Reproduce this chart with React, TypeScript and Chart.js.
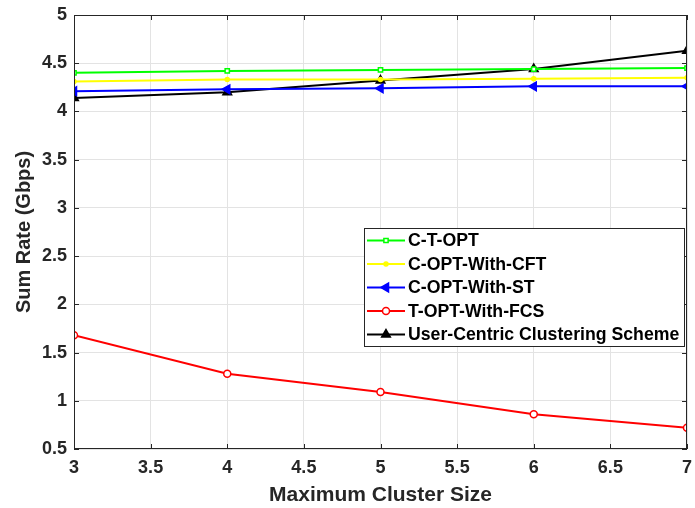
import { useEffect, useRef } from "react";
import { Chart, registerables } from "chart.js";
import { drawPoint } from "chart.js/helpers";

Chart.register(...registerables);

const clusterSizes = [3, 4, 5, 6, 7];
const ctOpt = [4.4, 4.42, 4.43, 4.44, 4.45];
const cOptCft = [4.31, 4.33, 4.33, 4.34, 4.35];
const cOptSt = [4.21, 4.23, 4.24, 4.26, 4.26];
const tOptFcs = [1.68, 1.28, 1.09, 0.86, 0.72];
const userCentric = [4.14, 4.2, 4.32, 4.44, 4.63];

const seriesLabels = [
  "C-T-OPT",
  "C-OPT-With-CFT",
  "C-OPT-With-ST",
  "T-OPT-With-FCS",
  "User-Centric Clustering Scheme",
];

const xTickValues = [3, 3.5, 4, 4.5, 5, 5.5, 6, 6.5, 7];
const yTickValues = [0.5, 1, 1.5, 2, 2.5, 3, 3.5, 4, 4.5, 5];

const FONT = "'Liberation Sans', Arial, sans-serif";
const AXIS_COLOR = "#262626";

const toPoints = (ys: number[]) => clusterSizes.map((x, i) => ({ x, y: ys[i] }));

const framePlugin = {
  id: "matlabFrame",
  afterDraw(chart: any) {
    const { ctx, chartArea, scales } = chart;
    const { left, right, top, bottom } = chartArea;
    ctx.save();
    ctx.strokeStyle = AXIS_COLOR;
    ctx.lineWidth = 1;
    ctx.strokeRect(left + 0.5, top + 0.5, right - left - 1, bottom - top - 1);
    const tl = 5;
    ctx.beginPath();
    xTickValues.forEach((v) => {
      const px = Math.round(scales.x.getPixelForValue(v)) + 0.5;
      ctx.moveTo(px, bottom);
      ctx.lineTo(px, bottom - tl);
      ctx.moveTo(px, top);
      ctx.lineTo(px, top + tl);
    });
    yTickValues.forEach((v) => {
      const py = Math.round(scales.y.getPixelForValue(v)) + 0.5;
      ctx.moveTo(left, py);
      ctx.lineTo(left + tl, py);
      ctx.moveTo(right, py);
      ctx.lineTo(right - tl, py);
    });
    ctx.stroke();

    // legend box inside plot area
    const boxRight = right - 2;
    const boxLeft = 364;
    const boxTop = 228;
    const rowH = 23.5;
    const boxBottom = 347;
    ctx.fillStyle = "#ffffff";
    ctx.fillRect(boxLeft, boxTop, boxRight - boxLeft, boxBottom - boxTop);
    ctx.strokeStyle = AXIS_COLOR;
    ctx.strokeRect(boxLeft + 0.5, boxTop + 0.5, boxRight - boxLeft - 1, boxBottom - boxTop - 1);
    ctx.font = `bold 17.7px ${FONT}`;
    ctx.textBaseline = "middle";
    ctx.textAlign = "left";
    chart.data.datasets.forEach((ds: any, i: number) => {
      const cy = boxTop + 12.5 + i * rowH;
      const x0 = boxLeft + 3;
      const x1 = boxLeft + 41;
      ctx.strokeStyle = ds.borderColor;
      ctx.lineWidth = ds.borderWidth;
      ctx.beginPath();
      ctx.moveTo(x0, cy);
      ctx.lineTo(x1, cy);
      ctx.stroke();
      ctx.fillStyle = ds.pointBackgroundColor;
      ctx.strokeStyle = ds.pointBorderColor;
      ctx.lineWidth = ds.pointBorderWidth;
      drawPoint(
        ctx,
        {
          pointStyle: ds.pointStyle,
          radius: ds.pointRadius,
          rotation: ds.pointRotation || 0,
          borderWidth: ds.pointBorderWidth,
        } as any,
        (x0 + x1) / 2,
        cy
      );
      ctx.fillStyle = "#000000";
      ctx.fillText(ds.label, x1 + 3, cy + 1);
    });
    ctx.restore();
  },
};

export default function App() {
  const canvasRef = useRef<HTMLCanvasElement | null>(null);

  useEffect(() => {
    document.body.style.margin = "0";
    const canvas = canvasRef.current;
    if (!canvas) return;
    const mk = (
      label: string,
      data: number[],
      color: string,
      pointStyle: string,
      radius: number,
      fill: string,
      rotation = 0
    ) => ({
      label,
      data: toPoints(data),
      borderColor: color,
      backgroundColor: color,
      borderWidth: 2,
      pointStyle,
      pointRadius: radius,
      pointRotation: rotation,
      pointBorderColor: color,
      pointBackgroundColor: fill,
      pointBorderWidth: 1.5,
      showLine: true,
      tension: 0,
    });

    const chart = new Chart(canvas, {
      type: "scatter",
      data: {
        datasets: [
          mk(seriesLabels[0], ctOpt, "#00ff00", "rect", 3, "#ffffff"),
          mk(seriesLabels[1], cOptCft, "#ffff00", "circle", 2, "#ffff00"),
          mk(seriesLabels[2], cOptSt, "#0000ff", "triangle", 5, "#0000ff", -90),
          mk(seriesLabels[3], tOptFcs, "#ff0000", "circle", 3.5, "#ffffff"),
          mk(seriesLabels[4], userCentric, "#000000", "triangle", 5, "#000000"),
        ] as any,
      },
      options: {
        responsive: false,
        animation: false,
        events: [],
        layout: { padding: { top: 15, right: 8, left: 12, bottom: 0 } },
        plugins: {
          legend: { display: false },
          tooltip: { enabled: false },
        },
        scales: {
          x: {
            type: "linear",
            min: 3,
            max: 7,
            afterFit: (s: any) => {
              s.height = 59;
              s.paddingLeft = 0;
              s.paddingRight = 0;
            },
            afterBuildTicks: (s: any) => {
              s.ticks = xTickValues.map((v) => ({ value: v }));
            },
            ticks: {
              autoSkip: false,
              maxRotation: 0,
              padding: 8,
              color: AXIS_COLOR,
              font: { family: FONT, size: 18, weight: "bold" },
              callback: (v: any) => String(v),
            },
            grid: { color: "#e3e3e3", drawTicks: false },
            border: { display: false },
            title: {
              display: true,
              text: "Maximum Cluster Size",
              color: AXIS_COLOR,
              font: { family: FONT, size: 21, weight: "bold" },
              padding: { top: 2, bottom: 0 },
            },
          },
          y: {
            type: "linear",
            min: 0.5,
            max: 5,
            afterFit: (s: any) => {
              s.width = 62;
              s.paddingTop = 0;
              s.paddingBottom = 0;
            },
            afterBuildTicks: (s: any) => {
              s.ticks = yTickValues.map((v) => ({ value: v }));
            },
            ticks: {
              autoSkip: false,
              padding: 7,
              color: AXIS_COLOR,
              font: { family: FONT, size: 18, weight: "bold" },
              callback: (v: any) => String(v),
            },
            grid: { color: "#e3e3e3", drawTicks: false },
            border: { display: false },
            title: {
              display: true,
              text: "Sum Rate (Gbps)",
              color: AXIS_COLOR,
              font: { family: FONT, size: 20, weight: "bold" },
              padding: { top: 0, bottom: 4 },
            },
          },
        },
      },
      plugins: [framePlugin],
    });
    return () => chart.destroy();
  }, []);

  return (
    <div style={{ width: 695, height: 508 }}>
      <canvas ref={canvasRef} width={695} height={508} />
    </div>
  );
}
